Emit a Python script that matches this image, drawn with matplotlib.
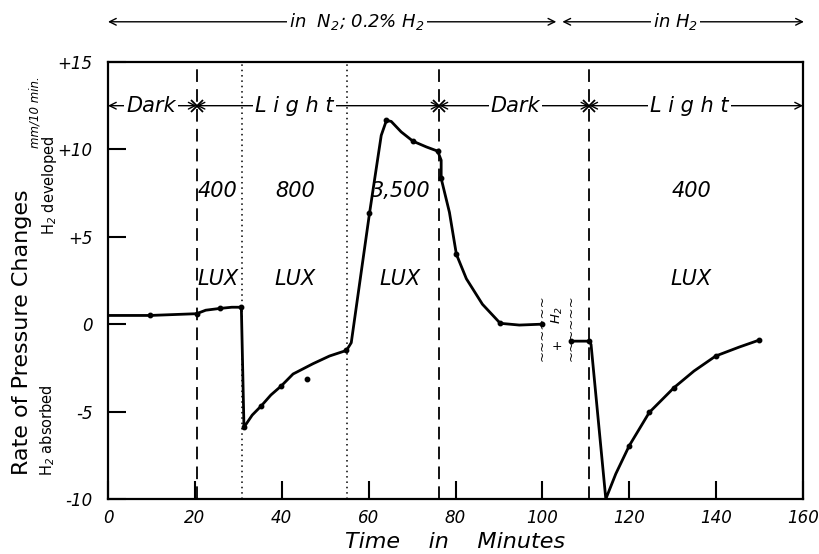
import matplotlib
matplotlib.use('Agg')
import matplotlib.pyplot as plt
import numpy as np

plt.rcParams['font.family'] = ['DejaVu Sans']
plt.rcParams['font.style'] = 'italic'
plt.rcParams['mathtext.default'] = 'it'

# traced curve (minutes, mm/10 min)
seg1_x = [0, 9.7, 20.4, 22.5, 25.7, 28.5, 30.7, 31.3, 33.2, 35.3, 37.5, 39.9,
          42.6, 47.2, 51.0, 54.9, 56.0, 60.2, 62.9, 64.1, 65.2, 67.5, 70.2,
          73.3, 75.9, 76.7, 76.7, 78.6, 80.2, 82.5, 86.2, 90.3, 94.7, 99.8]
seg1_y = [0.5, 0.5, 0.6, 0.8, 0.9, 0.97, 0.97, -5.9, -5.2, -4.67, -4.05, -3.53,
          -2.85, -2.26, -1.82, -1.5, -1.06, 6.34, 10.8, 11.66, 11.6, 11.0, 10.47,
          10.14, 9.9, 9.38, 8.34, 6.4, 4.0, 2.6, 1.14, 0.05, -0.05, 0.0]
seg2_x = [106.7, 110.8, 111.2, 114.6, 116.9, 120.0, 124.6, 130.3, 134.9,
          139.9, 145.3, 149.9]
seg2_y = [-0.97, -0.97, -1.16, -10.0, -8.56, -6.95, -5.05, -3.63, -2.68,
          -1.82, -1.31, -0.91]

# measured points (dots)
dots_x = [9.7, 20.4, 25.7, 30.7, 31.3, 35.3, 39.9, 45.7, 54.9, 60.2, 64.1,
          70.2, 75.9, 76.7, 80.2, 90.3, 99.8, 106.7, 110.8, 120.0, 124.6,
          130.3, 139.9, 149.9]
dots_y = [0.5, 0.6, 0.9, 0.97, -5.9, -4.67, -3.53, -3.15, -1.5, 6.34, 11.66,
          10.47, 9.9, 8.34, 4.0, 0.05, 0.0, -0.97, -0.97, -6.95, -5.05,
          -3.63, -1.82, -0.91]

dashed_x = [20.4, 76.3, 110.8]
dotted_x = [30.8, 55.0]

phase_edges = [0, 20.4, 76.3, 110.8, 160]
phase_names = ['Dark', 'L i g h t', 'Dark', 'L i g h t']
phase_text_x = [9.9, 42.9, 93.8, 133.8]

lux_x = [25.3, 43.1, 67.3, 134.3]
lux_vals = ['400', '800', '3,500', '400']

xticks = [0, 20, 40, 60, 80, 100, 120, 140, 160]
yticks = [-10, -5, 0, 5, 10, 15]
yticklabels = ['-10', '-5', '0', '+5', '+10', '+15']

fig = plt.figure(figsize=(8.2, 5.54), dpi=100)
ax = fig.add_axes([0.1317, 0.0993, 0.8476, 0.7888])
ax.set_xlim(0, 160)
ax.set_ylim(-10, 15)

for xv in dashed_x:
    ax.axvline(xv, color='black', lw=1.3, ls=(0, (7, 4)))
for xv in dotted_x:
    ax.axvline(xv, color='black', lw=1.1, ls=(0, (1, 2.5)))

ax.plot(seg1_x, seg1_y, color='black', lw=2.0, solid_joinstyle='round')
ax.plot(seg2_x, seg2_y, color='black', lw=2.0, solid_joinstyle='round')
ax.plot(dots_x, dots_y, 'o', color='black', ms=3.2)

# Dark / Light row
row_y = 12.5
for i in range(len(phase_names)):
    ax.annotate('', xy=(phase_edges[i], row_y), xytext=(phase_edges[i + 1], row_y),
                arrowprops=dict(arrowstyle='<->', lw=1.0, color='black',
                                shrinkA=0, shrinkB=0, mutation_scale=12))
    ax.text(phase_text_x[i], row_y, phase_names[i], fontsize=15, ha='center',
            va='center', bbox=dict(facecolor='white', edgecolor='none', pad=1.5))
ax.plot(phase_edges[1:4], [row_y] * 3, 'x', color='black', ms=8, mew=1.3)

for xv, lab in zip(lux_x, lux_vals):
    ax.text(xv, 7.6, lab, fontsize=15, ha='center', va='center')
    ax.text(xv, 2.6, 'LUX', fontsize=15, ha='center', va='center')

# gas change marker
for xv in [100.0, 106.7]:
    ax.text(xv, -0.2, '~~~~~~', rotation=90, fontsize=9.5, ha='center',
            va='center', family='DejaVu Sans', style='normal')
ax.text(103.5, 0.5, 'H$_2$', rotation=90, fontsize=9.5, ha='center', va='center')
ax.text(103.4, -1.3, '+', fontsize=9, ha='center', va='center')

# gas atmospheres above the plot
top_y = 17.3
ax.annotate('', xy=(0, top_y), xytext=(103.2, top_y), annotation_clip=False,
            arrowprops=dict(arrowstyle='<->', lw=1.0, color='black',
                            shrinkA=0, shrinkB=0, mutation_scale=12))
ax.text(57.3, top_y, 'in  N$_2$; 0.2% H$_2$', fontsize=13, ha='center', va='center',
        clip_on=False, bbox=dict(facecolor='white', edgecolor='none', pad=1.5))
ax.annotate('', xy=(104.6, top_y), xytext=(160.2, top_y), annotation_clip=False,
            arrowprops=dict(arrowstyle='<->', lw=1.0, color='black',
                            shrinkA=0, shrinkB=0, mutation_scale=12))
ax.text(130.6, top_y, 'in H$_2$', fontsize=13, ha='center', va='center',
        clip_on=False, bbox=dict(facecolor='white', edgecolor='none', pad=1.5))

ax.set_xticks(xticks)
ax.set_xticklabels([str(t) for t in xticks], fontsize=12)
ax.set_yticks(yticks)
ax.set_yticklabels(yticklabels, fontsize=12)
ax.tick_params(direction='in', length=13, width=1.5, pad=7)
ax.tick_params(axis='y', pad=11)
for s in ax.spines.values():
    s.set_linewidth(1.6)

ax.set_xlabel('Time    in    Minutes', fontsize=16, labelpad=4)

fig.text(22 / 820, 1 - 332 / 554, 'Rate of Pressure Changes', rotation=90,
         fontsize=16, ha='center', va='center', style='normal')
fig.text(35 / 820, 1 - 112 / 554, 'mm/10 min.', rotation=90, fontsize=8.5,
         ha='center', va='center')
fig.text(50 / 820, 1 - 185 / 554, 'H$_2$ developed', rotation=90, fontsize=10.5,
         ha='center', va='center', style='normal')
fig.text(48 / 820, 1 - 430 / 554, 'H$_2$ absorbed', rotation=90, fontsize=10.5,
         ha='center', va='center', style='normal')

fig.savefig('out.png', dpi=100)
